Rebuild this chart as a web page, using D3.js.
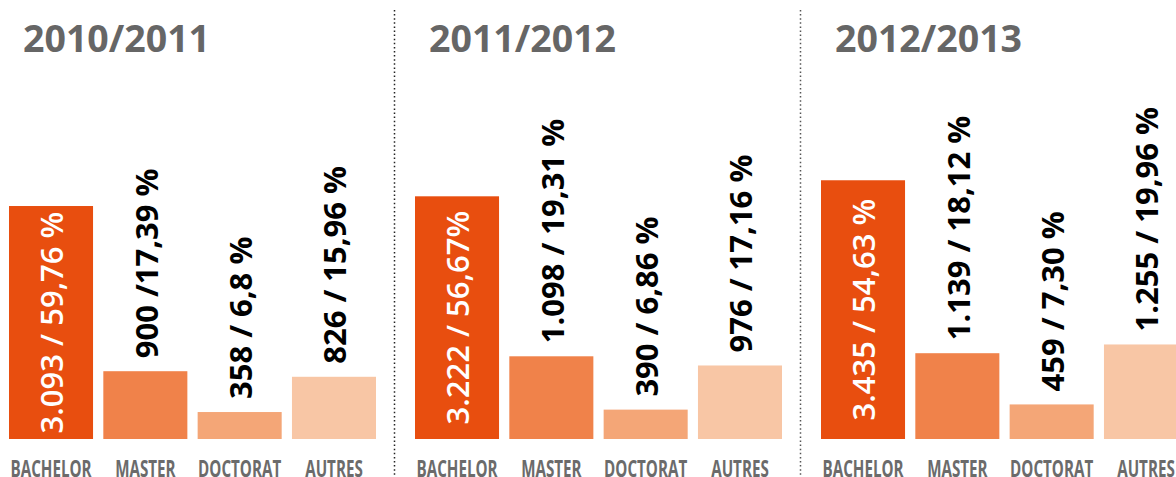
<!DOCTYPE html>
<html>
<head>
<meta charset="utf-8">
<script src="https://cdn.jsdelivr.net/npm/d3@7"></script>
<style>
  html, body { margin: 0; padding: 0; background: #ffffff; }
  svg { display: block; }
</style>
</head>
<body>
<svg id="chart" width="1176" height="477"></svg>
<script>
// Student enrolment by degree level, three academic years
const years = ["2010/2011", "2011/2012", "2012/2013"];
const categories = ["BACHELOR", "MASTER", "DOCTORAT", "AUTRES"];

const students2010 = [3093, 900, 358, 826];
const students2011 = [3222, 1098, 390, 976];
const students2012 = [3435, 1139, 459, 1255];

const labels2010 = ["3.093 / 59,76 %", "900 /17,39 %", "358 / 6,8 %", "826 / 15,96 %"];
const labels2011 = ["3.222 / 56,67%", "1.098 / 19,31 %", "390 / 6,86 %", "976 / 17,16 %"];
const labels2012 = ["3.435 / 54,63 %", "1.139 / 18,12 %", "459 / 7,30 %", "1.255 / 19,96 %"];

const seriesValues = [students2010, students2011, students2012];
const seriesLabels = [labels2010, labels2011, labels2012];

const colors = ["#e84e0f", "#f0824a", "#f4a677", "#f8c6a5"];

const W = 1176, H = 477;
const svg = d3.select("#chart");

const baseline = 439;
const panelWidth = 367;

// panel placement along the page
const panelX = d3.scaleLinear().domain([0, 1]).range([9, 415]);

// bars inside one panel
const x = d3.scaleBand()
  .domain(categories)
  .range([0, panelWidth])
  .paddingInner(0.109)
  .paddingOuter(0);

// bar height scale shared by all panels
const y = d3.scaleLinear()
  .domain([0, 4000])
  .range([baseline, baseline - 301.3]);

const color = d3.scaleOrdinal().domain(categories).range(colors);

const labelFont = "'Open Sans', 'DejaVu Sans', sans-serif";

years.forEach((year, i) => {
  const x0 = panelX(i);
  const g = svg.append("g").attr("transform", `translate(${x0},0)`);

  // dotted divider to the left of every panel but the first
  if (i > 0) {
    const dx = Math.round(x0 - 21) + 0.5;
    svg.append("line")
      .attr("x1", dx).attr("x2", dx)
      .attr("y1", 10).attr("y2", H)
      .attr("stroke", i === 1 ? "#222" : "#555")
      .attr("stroke-width", 1.5)
      .attr("stroke-dasharray", "1.5 2.6");
  }

  // year heading
  g.append("text")
    .attr("x", 14)
    .attr("y", 52)
    .attr("font-family", labelFont)
    .attr("font-weight", 700)
    .attr("font-size", 37.5)
    .attr("fill", "#666666")
    .text(year);

  const rows = categories.map((c, k) => ({
    cat: c,
    value: seriesValues[i][k],
    label: seriesLabels[i][k],
    first: k === 0
  }));

  // bars
  g.selectAll("rect.bar")
    .data(rows)
    .join("rect")
    .attr("class", "bar")
    .attr("x", d => x(d.cat))
    .attr("y", d => y(d.value))
    .attr("width", x.bandwidth())
    .attr("height", d => y(0) - y(d.value))
    .attr("fill", d => color(d.cat));

  // rotated value labels: inside the first bar, above the others
  g.selectAll("text.value")
    .data(rows)
    .join("text")
    .attr("class", "value")
    .attr("transform", d => {
      const cx = x(d.cat) + x.bandwidth() / 2 + 1;
      const cy = d.first ? (y(d.value) + y(0)) / 2 : y(d.value) - 13;
      return `translate(${cx},${cy}) rotate(-90)`;
    })
    .attr("dy", "0.36em")
    .attr("text-anchor", d => d.first ? "middle" : "start")
    .attr("font-family", labelFont)
    .attr("font-weight", d => d.first ? 600 : 700)
    .attr("font-size", 31)
    .attr("fill", d => d.first ? "#ffffff" : "#000000")
    .text(d => d.label);

  // category names under the bars, condensed
  g.selectAll("text.cat")
    .data(rows)
    .join("text")
    .attr("class", "cat")
    .attr("transform", d => `translate(${x(d.cat) + x.bandwidth() / 2},476.5) scale(0.66,1)`)
    .attr("text-anchor", "middle")
    .attr("font-family", labelFont)
    .attr("font-weight", 700)
    .attr("font-size", 23)
    .attr("fill", "#6b6b6b")
    .text(d => d.cat);
});
</script>
</body>
</html>
